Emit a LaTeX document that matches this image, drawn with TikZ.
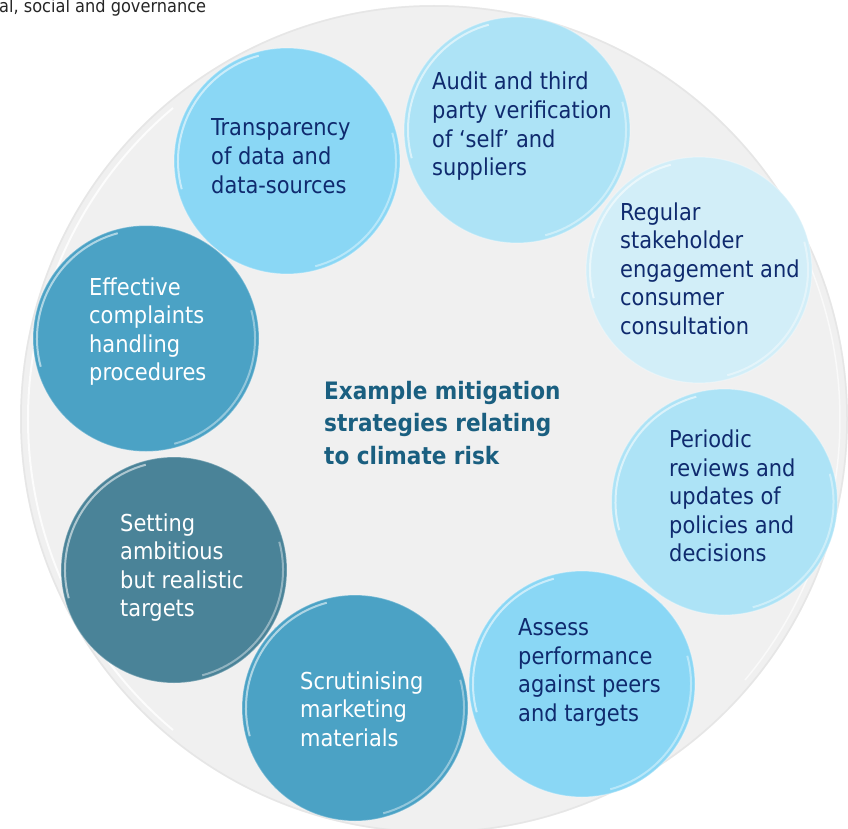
\documentclass[tikz,border=0pt]{standalone}
\usepackage{fontspec}
\setmainfont{DejaVu Sans Condensed}
\usetikzlibrary{calc}

\definecolor{bgGrey}{HTML}{F0F0F0}
\definecolor{rimGrey}{HTML}{E6E6E6}
\definecolor{skyA}{HTML}{8AD7F5}
\definecolor{skyB}{HTML}{ADE3F6}
\definecolor{skyC}{HTML}{D2EEF8}
\definecolor{tealMid}{HTML}{4BA2C5}
\definecolor{tealDark}{HTML}{4A8398}
\definecolor{navyText}{HTML}{0F2A6E}
\definecolor{titleBlue}{HTML}{1A5F80}
\definecolor{headGrey}{HTML}{262626}

\tikzset{
  bubble/.style={circle, inner sep=0pt, minimum size=226pt, draw=white, draw opacity=0.3, line width=1.2pt,
    path picture={
      \draw[white, opacity=0.55, line width=2pt]
        ([shift={(105:109pt)}]path picture bounding box.center) arc[start angle=105, end angle=195, radius=109pt];
      \draw[white, opacity=0.4, line width=2pt]
        ([shift={(-75:109pt)}]path picture bounding box.center) arc[start angle=-75, end angle=15, radius=109pt];
    }},
  bubbletext/.style={anchor=base west, inner sep=0pt, font=\fontsize{23.3}{28.6}\selectfont},
  darktext/.style={bubbletext, text=navyText},
  lighttext/.style={bubbletext, text=white},
  titletext/.style={anchor=base west, inner sep=0pt, text=titleBlue, font=\fontsize{24}{32.5}\selectfont\bfseries},
}

\newcommand{\lines}[1]{\begin{tabular}[t]{@{}l@{}}#1\end{tabular}}

\begin{document}
\begin{tikzpicture}[x=1pt, y=1pt]
  \useasboundingbox (0,-829) rectangle (848,0);

  % large backdrop disc with a soft rim
  \fill[bgGrey] (434,-419) circle[radius=414];
  \draw[rimGrey, line width=1.5pt] (434,-419) circle[radius=413];
  \draw[white, line width=2pt, opacity=0.8] ($(434,-419)+(130:406)$) arc[start angle=130, end angle=230, radius=406];
  \draw[white, line width=1.5pt, opacity=0.6] ($(434,-419)+(-40:406)$) arc[start angle=-40, end angle=35, radius=406];

  % running header fragment
  \node[anchor=base west, inner sep=0pt, text=headGrey, font=\fontsize{18}{20}\selectfont] (hdr) at (-1,-13) {al, social and governance};

  % ring of strategy bubbles
  \node[bubble, fill=skyA]     (c1) at (287,-161) {};
  \node[bubble, fill=skyB]     (c2) at (517,-130) {};
  \node[bubble, fill=skyC]     (c3) at (699,-270) {};
  \node[bubble, fill=skyB]     (c4) at (724.5,-502) {};
  \node[bubble, fill=skyA]     (c5) at (582,-684) {};
  \node[bubble, fill=tealMid]  (c6) at (355,-708) {};
  \node[bubble, fill=tealDark] (c7) at (174,-570) {};
  \node[bubble, fill=tealMid]  (c8) at (146,-338.5) {};

  % bubble labels
  \node[darktext] (t1) at (211,-136) {\lines{Transparency\\of data and\\data-sources}};
  \node[darktext] (t2) at (432,-90) {\lines{Audit and third\\party verification\\of ‘self’ and\\suppliers}};
  \node[darktext] (t3) at (620,-220) {\lines{Regular\\stakeholder\\engagement and\\consumer\\consultation}};
  \node[darktext] (t4) at (669,-447.5) {\lines{Periodic\\reviews and\\updates of\\policies and\\decisions}};
  \node[darktext] (t5) at (518,-635.7) {\lines{Assess\\performance\\against peers\\and targets}};
  \node[lighttext] (t6) at (300,-689) {\lines{Scrutinising\\marketing\\materials}};
  \node[lighttext] (t7) at (120,-531) {\lines{Setting\\ambitious\\but realistic\\targets}};
  \node[lighttext] (t8) at (89,-295) {\lines{Effective\\complaints\\handling\\procedures}};

  % central heading
  \node[titletext] (title) at (324,-399) {\lines{Example mitigation\\strategies relating\\to climate risk}};
\end{tikzpicture}
\end{document}
